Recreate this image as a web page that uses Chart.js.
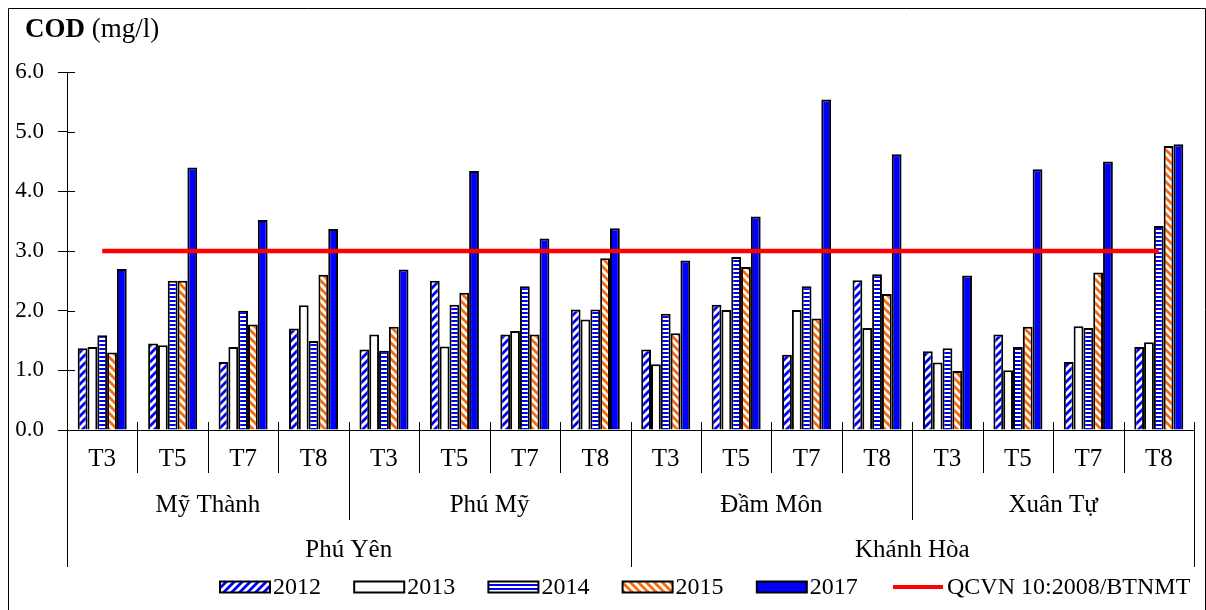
<!DOCTYPE html>
<html>
<head>
<meta charset="utf-8">
<script src="https://cdn.jsdelivr.net/npm/chart.js@4/dist/chart.umd.min.js"></script>
<style>
html,body{margin:0;padding:0;background:#fff;}
#wrap{width:1206px;height:610px;position:relative;}
</style>
</head>
<body>
<div id="wrap"><canvas id="c"></canvas></div>
<script>
// ---------------- DATA ----------------
const regions = ['Phú Yên', 'Khánh Hòa'];
const stationsPerRegion = [2, 2];
const stations = ['Mỹ Thành', 'Phú Mỹ', 'Đầm Môn', 'Xuân Tự'];
const months = ['T3', 'T5', 'T7', 'T8'];
const years = ['2012', '2013', '2014', '2015', '2017'];

// order: Mỹ Thành T3..T8, Phú Mỹ T3..T8, Đầm Môn T3..T8, Xuân Tự T3..T8
const cod2012 = [1.37, 1.45, 1.14, 1.70, 1.35, 2.50, 1.60, 2.02, 1.35, 2.10, 1.26, 2.51, 1.32, 1.60, 1.14, 1.39];
const cod2013 = [1.39, 1.42, 1.39, 2.09, 1.60, 1.40, 1.66, 1.85, 1.10, 2.01, 2.01, 1.71, 1.13, 1.00, 1.74, 1.47];
const cod2014 = [1.59, 2.50, 2.00, 1.49, 1.33, 2.10, 2.41, 2.02, 1.95, 2.90, 2.41, 2.61, 1.37, 1.39, 1.71, 3.42];
const cod2015 = [1.30, 2.50, 1.77, 2.60, 1.73, 2.30, 1.60, 2.88, 1.62, 2.73, 1.87, 2.28, 0.99, 1.73, 2.64, 4.76];
const cod2017 = [2.70, 4.40, 3.52, 3.37, 2.69, 4.34, 3.21, 3.38, 2.84, 3.58, 5.54, 4.62, 2.59, 4.37, 4.50, 4.79];
const qcvn = [3.0, 3.0, 3.0, 3.0, 3.0, 3.0, 3.0, 3.0, 3.0, 3.0, 3.0, 3.0, 3.0, 3.0, 3.0, 3.0];
const qcvnLabel = 'QCVN 10:2008/BTNMT';
const yMin = 0, yMax = 6, yStep = 1;
const titleBold = 'COD';
const titleRest = '(mg/l)';

// -------------- build categories --------------
const labels = [];
stations.forEach(s => months.forEach(m => labels.push(m)));

// -------------- patterns --------------
const SERIF = '"Liberation Serif", "Times New Roman", serif';
function diagPattern(color, dir) {
  const s = 8;
  const c = document.createElement('canvas'); c.width = s; c.height = s;
  const g = c.getContext('2d');
  g.fillStyle = '#fff'; g.fillRect(0, 0, s, s);
  g.strokeStyle = color; g.lineWidth = 2.8; g.lineCap = 'square';
  g.beginPath();
  if (dir === '/') {
    g.moveTo(0, s); g.lineTo(s, 0);
    g.moveTo(-s / 2, s / 2); g.lineTo(s / 2, -s / 2);
    g.moveTo(s / 2, s * 1.5); g.lineTo(s * 1.5, s / 2);
  } else {
    g.moveTo(0, 0); g.lineTo(s, s);
    g.moveTo(-s / 2, s / 2); g.lineTo(s / 2, s * 1.5);
    g.moveTo(s / 2, -s / 2); g.lineTo(s * 1.5, s / 2);
  }
  g.stroke();
  return g.createPattern(c, 'repeat');
}
function hPattern(color) {
  const c = document.createElement('canvas'); c.width = 4; c.height = 4;
  const g = c.getContext('2d');
  g.fillStyle = '#fff'; g.fillRect(0, 0, 4, 4);
  g.fillStyle = color; g.fillRect(0, 0, 4, 2);
  return g.createPattern(c, 'repeat');
}
const fills = [diagPattern('#0000FF', '/'), '#FFFFFF', hPattern('#0000FF'), diagPattern('#FF6600', '\\'), '#0000FF'];
const series = [cod2012, cod2013, cod2014, cod2015, cod2017];

const datasets = series.map((d, i) => ({
  type: 'bar',
  label: years[i],
  data: d,
  backgroundColor: fills[i],
  borderColor: '#000',
  borderWidth: 2,
  borderSkipped: 'start',
  categoryPercentage: 0.696,
  barPercentage: 1.0,
  order: 1
}));
datasets.push({
  type: 'line',
  label: qcvnLabel,
  data: qcvn,
  borderColor: '#FF0000',
  backgroundColor: '#FF0000',
  borderWidth: 4.5,
  pointRadius: 0,
  tension: 0,
  order: -1
});

// -------------- plugin: frame, title, hierarchical axis, legend --------------
const decor = {
  id: 'decor',
  beforeDraw(chart) {
    const ctx = chart.ctx;
    ctx.save();
    ctx.fillStyle = '#fff';
    ctx.fillRect(0, 0, chart.width, chart.height);
    ctx.strokeStyle = '#000'; ctx.lineWidth = 1;
    ctx.beginPath();
    ctx.moveTo(8.5, chart.height + 2); ctx.lineTo(8.5, 8.5); ctx.lineTo(1205.5, 8.5); ctx.lineTo(1205.5, chart.height + 2);
    ctx.stroke();
    ctx.restore();
  },
  afterDraw(chart) {
    const ctx = chart.ctx;
    const xs = chart.scales.x, ys = chart.scales.y;
    const area = chart.chartArea;
    ctx.save();
    // title
    ctx.fillStyle = '#000';
    ctx.textBaseline = 'alphabetic';
    ctx.textAlign = 'left';
    ctx.font = 'bold 27px ' + SERIF;
    ctx.fillText(titleBold, 25, 37);
    const wB = ctx.measureText(titleBold).width;
    ctx.font = '27px ' + SERIF;
    ctx.fillText(titleRest, 25 + wB + ctx.measureText(' ').width, 37);

    // y ticks inner halves (cross tick marks)
    ctx.strokeStyle = '#000'; ctx.lineWidth = 1;
    ctx.beginPath();
    ys.ticks.forEach(t => {
      const y = Math.round(ys.getPixelForValue(t.value)) + 0.5;
      ctx.moveTo(area.left, y); ctx.lineTo(area.left + 8, y);
    });
    ctx.stroke();

    // category boundaries
    const n = labels.length;
    const bound = i => {
      if (i === 0) return area.left;
      if (i === n) return area.right;
      return (xs.getPixelForValue(i - 1) + xs.getPixelForValue(i)) / 2;
    };
    const base = area.bottom;
    const regionStarts = [0];
    let acc = 0;
    stationsPerRegion.forEach(k => { acc += k * months.length; regionStarts.push(acc); });
    ctx.beginPath();
    for (let i = 0; i <= n; i++) {
      let yEnd = 473;
      if (i % months.length === 0) yEnd = 520;
      if (regionStarts.includes(i)) yEnd = 567;
      const x = Math.round(bound(i)) + 0.5;
      ctx.moveTo(x, base - 8); ctx.lineTo(x, yEnd);
    }
    ctx.stroke();

    // month labels
    ctx.font = '25px ' + SERIF;
    ctx.textAlign = 'center';
    ctx.textBaseline = 'middle';
    labels.forEach((l, i) => ctx.fillText(l, xs.getPixelForValue(i), 459));
    // station labels
    stations.forEach((s, k) => {
      const a = bound(k * months.length), b = bound((k + 1) * months.length);
      ctx.fillText(s, (a + b) / 2, 505);
    });
    // region labels
    regions.forEach((r, k) => {
      const a = bound(regionStarts[k]), b = bound(regionStarts[k + 1]);
      ctx.fillText(r, (a + b) / 2, 550);
    });

    // legend
    ctx.font = '24px ' + SERIF;
    ctx.textAlign = 'left';
    const ly = 587;
    const step = 134.2;
    chart.data.datasets.forEach((ds, i) => {
      const x0 = 220 + i * step;
      if (ds.type === 'bar') {
        ctx.fillStyle = ds.backgroundColor;
        ctx.fillRect(x0, ly - 5.5, 50, 11);
        ctx.strokeStyle = '#000'; ctx.lineWidth = 2;
        ctx.strokeRect(x0, ly - 5.5, 50, 11);
        ctx.fillStyle = '#000';
        ctx.fillText(ds.label, x0 + 53, ly + 1);
      } else {
        ctx.strokeStyle = ds.borderColor; ctx.lineWidth = 4;
        ctx.beginPath(); ctx.moveTo(x0 + 2, ly); ctx.lineTo(x0 + 52, ly); ctx.stroke();
        ctx.fillStyle = '#000';
        ctx.fillText(ds.label, x0 + 56, ly + 1);
      }
    });
    ctx.restore();
  }
};

new Chart(document.getElementById('c'), {
  data: { labels: labels, datasets: datasets },
  options: {
    responsive: true,
    maintainAspectRatio: false,
    animation: false,
    layout: { padding: { top: 72, right: 12, bottom: 0, left: 0 } },
    plugins: { legend: { display: false }, tooltip: { enabled: false }, title: { display: false } },
    scales: {
      x: {
        type: 'category',
        offset: true,
        grid: { display: false },
        border: { display: true, color: '#000', width: 1 },
        ticks: { display: false },
        afterFit(s) { s.height = 180; }
      },
      y: {
        min: yMin, max: yMax,
        ticks: {
          stepSize: yStep,
          color: '#000',
          padding: 14,
          font: { family: SERIF, size: 23 },
          callback: v => Number(v).toFixed(1)
        },
        grid: { drawOnChartArea: false, drawTicks: true, tickLength: 9, color: '#000', lineWidth: 1 },
        border: { display: true, color: '#000', width: 1 },
        afterFit(s) { s.width = 67; }
      }
    }
  },
  plugins: [decor]
});
</script>
</body>
</html>
